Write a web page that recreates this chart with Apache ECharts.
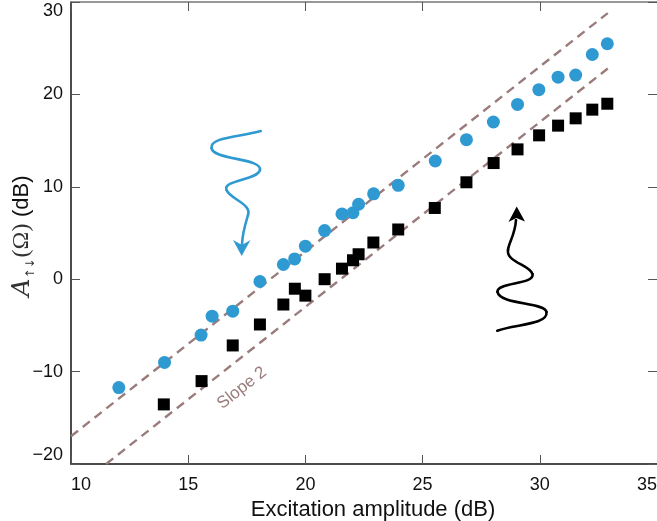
<!DOCTYPE html>
<html>
<head>
<meta charset="utf-8">
<script src="https://cdn.jsdelivr.net/npm/echarts@6/dist/echarts.min.js"></script>
<style>html,body{margin:0;padding:0;background:#fff}#c{width:657px;height:521px}</style>
</head>
<body>
<div id="c"></div>
<script>
// Data
const excitationBlue = [12.04, 13.99, 15.55, 16.02, 16.90, 18.06, 19.06, 19.54, 20.00, 20.82, 21.56, 22.03, 22.27, 22.91, 23.96, 25.54, 26.87, 28.02, 29.05, 29.96, 30.78, 31.53, 32.24, 32.88];
const responseBlue = [-11.73, -9.01, -6.05, -4.0, -3.46, -0.25, 1.59, 2.19, 3.57, 5.26, 7.06, 7.19, 8.11, 9.24, 10.16, 12.79, 15.10, 17.01, 18.92, 20.51, 21.86, 22.09, 24.32, 25.48];
const excitationBlack = [13.96, 15.57, 16.90, 18.06, 19.06, 19.55, 20.00, 20.82, 21.56, 22.03, 22.27, 22.90, 23.96, 25.52, 26.87, 28.03, 29.05, 29.97, 30.78, 31.53, 32.24, 32.88];
const responseBlack = [-13.55, -11.03, -7.17, -4.90, -2.74, -1.03, -1.78, 0.0, 1.14, 2.05, 2.70, 3.97, 5.38, 7.71, 10.49, 12.57, 14.05, 15.57, 16.62, 17.41, 18.35, 18.99];
const upperSlopeX = [10, 32.9];
const upperSlopeY = [-17, 28.8];
const lowerSlopeX = [11.5, 32.9];
const lowerSlopeY = [-20, 22.8];
const xTicks = [10, 15, 20, 25, 30, 35];
const yTicks = [-20, -10, 0, 10, 20, 30];
const slopeLabel = 'Slope 2';
const xTitle = 'Excitation amplitude (dB)';

const zip = (a, b) => a.map((v, i) => [v, b[i]]);
const BLUE = '#2f9ad1';
const DASH = '#9a7c7c';
const FONT = '"Liberation Sans", Arial, Helvetica, sans-serif';
const minus = v => String(v).replace('-', '\u2212');

// decorative wavy arrows (annotation, pixel space)
const blueWave = [
  [260.7,131, 240,137, 210,137, 211.5,148],
  [211.5,148, 213,160, 262,158, 260,170],
  [260,170, 258,180, 222,180, 226.5,190],
  [226.5,190, 230,199, 252,204, 248,215],
  [248,215, 245,225, 242,235, 242,245]
];
const blackWave = [
  [497.3,330.7, 515,324, 548,325, 546.5,312],
  [546.5,312, 545,302, 500,305, 497.5,292],
  [497.5,292, 496,282, 535,285, 532.5,274],
  [532.5,274, 530,265, 506,262, 508,250],
  [508,250, 509,242, 515,235, 516,220]
];
const bez = (segs, color) => segs.map(s => ({
  type: 'bezierCurve',
  shape: {x1: s[0], y1: s[1], cpx1: s[2], cpy1: s[3], cpx2: s[4], cpy2: s[5], x2: s[6], y2: s[7]},
  style: {stroke: color, lineWidth: 2.6, fill: null, lineCap: 'round'}
}));

const chart = echarts.init(document.getElementById('c'), null, {renderer: 'canvas'});
const tickCommon = {show: true, inside: true, length: 9, lineStyle: {color: '#555', width: 1}};
chart.setOption({
  animation: false,
  grid: {left: 71, top: 2, right: 0, bottom: 57, outerBoundsMode: 'none', containLabel: false},
  xAxis: [{
    type: 'value', min: xTicks[0], max: xTicks[xTicks.length - 1], interval: 5, position: 'bottom',
    axisLine: {show: true, onZero: false, lineStyle: {color: '#111', width: 1.5}},
    axisTick: tickCommon, splitLine: {show: false},
    axisLabel: {color: '#111', fontSize: 18, fontFamily: FONT, margin: 12, alignMinLabel: 'left', alignMaxLabel: 'right', formatter: minus},
    name: xTitle, nameLocation: 'middle', nameGap: 32,
    nameTextStyle: {color: '#111', fontSize: 22, fontFamily: FONT, padding: [0, 0, 0, 18]}
  }, {
    type: 'value', min: xTicks[0], max: xTicks[xTicks.length - 1], interval: 5, position: 'top',
    axisLine: {show: true, onZero: false, lineStyle: {color: '#777', width: 1.5}},
    axisTick: tickCommon, axisLabel: {show: false}, splitLine: {show: false}
  }],
  yAxis: [{
    type: 'value', min: yTicks[0], max: yTicks[yTicks.length - 1], interval: 10, position: 'left',
    axisLine: {show: true, onZero: false, lineStyle: {color: '#111', width: 1.5}},
    axisTick: tickCommon, splitLine: {show: false},
    axisLabel: {color: '#111', fontSize: 18, fontFamily: FONT, margin: 8, verticalAlignMinLabel: 'bottom', verticalAlignMaxLabel: 'top', formatter: minus}
  }, {
    type: 'value', min: yTicks[0], max: yTicks[yTicks.length - 1], interval: 10, position: 'right',
    axisLine: {show: false, onZero: false}, axisTick: tickCommon, axisLabel: {show: false}, splitLine: {show: false}
  }],
  series: [{
    type: 'line', data: zip(upperSlopeX, upperSlopeY), symbol: 'none', z: 1,
    lineStyle: {color: DASH, width: 2.4, type: [9, 6]}
  }, {
    type: 'line', data: zip(lowerSlopeX, lowerSlopeY), symbol: 'none', z: 1,
    lineStyle: {color: DASH, width: 2.4, type: [9, 6]}
  }, {
    type: 'scatter', data: zip(excitationBlue, responseBlue), symbol: 'circle', symbolSize: 13, z: 3,
    itemStyle: {color: BLUE, opacity: 1}
  }, {
    type: 'scatter', data: zip(excitationBlack, responseBlack), symbol: 'rect', symbolSize: 12, z: 3,
    itemStyle: {color: '#000', opacity: 1}
  }],
  graphic: [{
    type: 'text', x: 22, y: 236, rotation: Math.PI / 2,
    style: {
      text: '{a|A}{s|\u2191\u2193}{o|(\u03A9)}  {d|(dB)}',
      align: 'center', verticalAlign: 'middle', fill: '#111',
      rich: {
        a: {fontFamily: '"DejaVu Serif", "Liberation Serif", serif', fontStyle: 'italic', fontSize: 25, lineHeight: 30, fill: '#333'},
        s: {fontFamily: '"DejaVu Sans", sans-serif', fontSize: 12, verticalAlign: 'bottom', lineHeight: 30, fill: '#333', padding: [0, 1, 0, 0]},
        o: {fontFamily: '"Liberation Serif", "DejaVu Serif", serif', fontSize: 24, lineHeight: 30, fill: '#333'},
        d: {fontFamily: FONT, fontSize: 22, lineHeight: 30, fill: '#111'}
      }
    }
  }, {
    type: 'text', x: 242, y: 388, rotation: 38.2 * Math.PI / 180,
    style: {text: slopeLabel, align: 'center', verticalAlign: 'middle', fill: DASH, fontSize: 17, fontFamily: FONT}
  }].concat(bez(blueWave, BLUE), bez(blackWave, '#000'), [{
    type: 'polygon', shape: {points: [[241.7, 256], [233, 240], [242, 245], [250.5, 240]]},
    style: {fill: BLUE}
  }, {
    type: 'polygon', shape: {points: [[516.7, 206.5], [508.5, 222], [516.3, 218], [525, 221.5]]},
    style: {fill: '#000'}
  }])
});
</script>
</body>
</html>
